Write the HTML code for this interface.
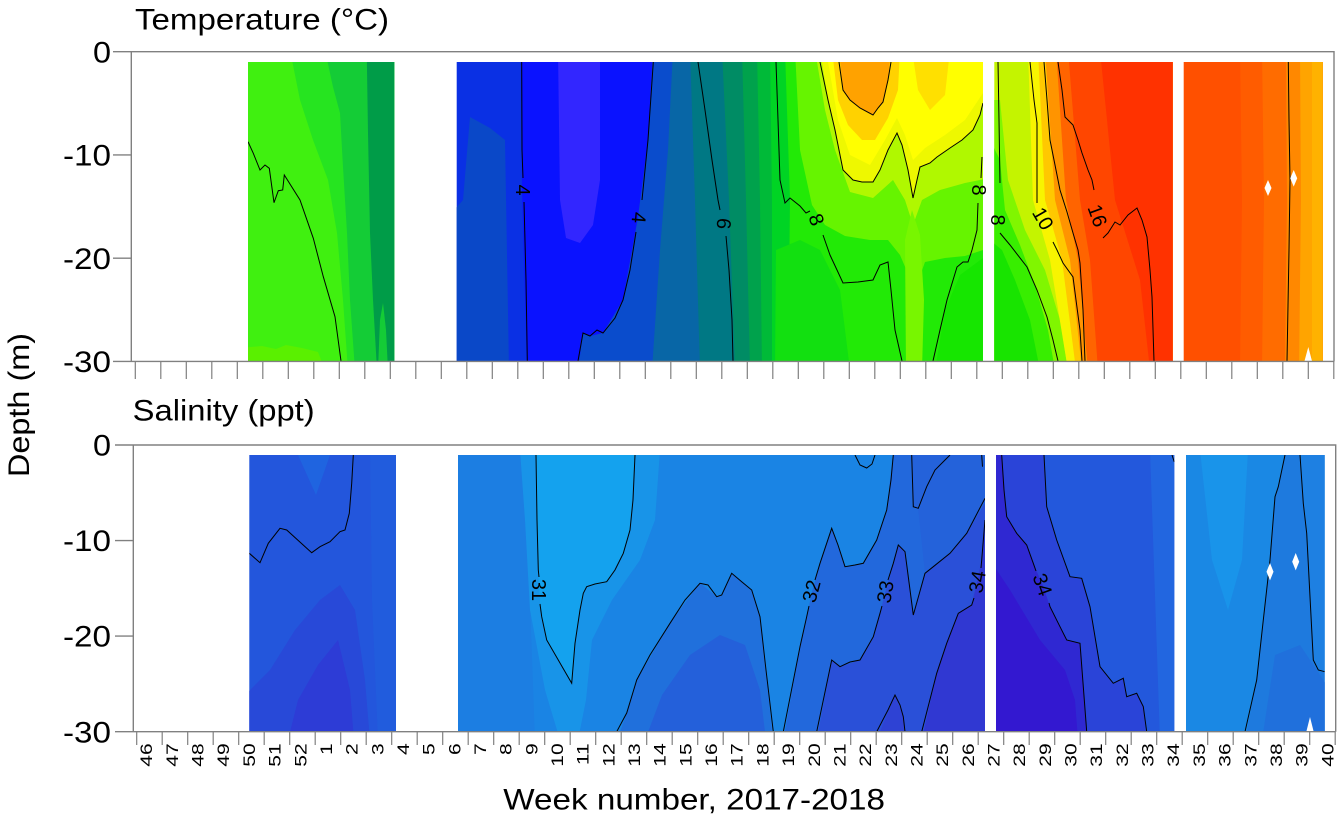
<!DOCTYPE html>
<html><head><meta charset="utf-8"><style>
html,body{margin:0;padding:0;background:#fff;}
svg{display:block;}
text{font-family:"Liberation Sans",Arial,sans-serif;fill:#000;}
</style></head><body>
<svg width="1339" height="818" viewBox="0 0 1339 818" xmlns="http://www.w3.org/2000/svg">
<defs>
<clipPath id="tb1"><rect x="248" y="62" width="146.3" height="299"/></clipPath>
<clipPath id="tb2"><rect x="456.7" y="62" width="526.3" height="299"/></clipPath>
<clipPath id="tb3"><rect x="994.3" y="62" width="178.4" height="299"/></clipPath>
<clipPath id="tb4"><rect x="1183.7" y="62" width="139" height="299"/></clipPath>
<clipPath id="bb1"><rect x="249.3" y="455" width="146.7" height="276.7"/></clipPath>
<clipPath id="bb2"><rect x="458" y="455" width="527" height="276.7"/></clipPath>
<clipPath id="bb3"><rect x="996" y="455" width="178.3" height="276.7"/></clipPath>
<clipPath id="bb4"><rect x="1186" y="455" width="138.7" height="276.7"/></clipPath>
</defs>

<g clip-path="url(#tb1)">
<rect x="240" y="50" width="170" height="330" fill="#40f010"/>
<polygon points="290,50 300,100 313,140 328,180 337,233 343,300 348,370 400,370 400,50" fill="#26e420"/>
<polygon points="325,50 333,87 340,113 343,167 347,233 350,300 355,370 400,370 400,50" fill="#14cc36"/>
<polygon points="366.7,50 368,133 370,233 373,300 377,370 400,370 400,50" fill="#009c48"/>
<polygon points="378,370 380,320 383,303 386,330 388,370" fill="#14cc36"/>
<polygon points="240,348 262,346 276,349 286,345 302,348 318,352 325,370 240,370" fill="#5af000"/>
<polyline fill="none" stroke="#000" stroke-width="1" points="248,141.7 253.3,153.3 260,170 265,165 269.3,168.3 274,202.7 278.3,190.7 282.7,190 284.3,175 300,200 313.3,238.3 323.3,276.7 335,316.7 341,361"/>
</g>

<g clip-path="url(#tb2)">
<rect x="450" y="50" width="540" height="330" fill="#0a30e4"/>
<polygon points="470,117 490,128 505,140 509,370 450,370 450,215 463,200" fill="#0a48c8"/>
<polygon points="521,50 522,190 527,370 990,370 990,50" fill="#0a12ff"/>
<polygon points="558,50 600,50 600,180 593,225 580,243 566,238 560,200" fill="#3226ff"/>
<polygon points="653,50 648,140 638,217 623,300 603,333 590,336 583,333 578,370 990,370 990,50" fill="#0a4ccc"/>
<polygon points="673,50 668,150 660,250 652,370 990,370 990,50" fill="#0866a6"/>
<polygon points="690,50 695,200 700,370 990,370 990,50" fill="#007884"/>
<polygon points="722,50 729,200 735,370 990,370 990,50" fill="#008c64"/>
<polygon points="742,50 746,200 750,370 990,370 990,50" fill="#00a24c"/>
<polygon points="757,50 760,200 762,370 990,370 990,50" fill="#00ba38"/>
<polygon points="770,50 772,200 772,370 990,370 990,50" fill="#00d424"/>
<polygon points="785,50 790,200 788,370 990,370 990,50" fill="#22ea06"/>
<polygon points="795,50 800,150 812,205 825,225 845,236 870,240 888,240 900,255 915,290 925,262 945,258 965,256 983,250 990,250 990,50" fill="#66f400"/>
<polygon points="815,50 825,110 835,150 850,192 873,198 893,180 905,200 913,225 922,200 940,190 965,183 990,178 990,50" fill="#b0f800"/>
<polygon points="820,50 828,100 835,130 843,170 853,180 862,182 873,182 880,170 888,150 897,133 902,145 908,170 913,198 917,180 920,167 930,163 937,157 950,148 962,140 973,130 980,115 983,103 990,100 990,50" fill="#eef800"/>
<polygon points="826,50 838,120 850,155 870,165 885,140 897,118 905,135 913,160 925,148 945,135 965,120 985,90 990,50" fill="#ffff00"/>
<polygon points="832,50 838,100 848,125 862,140 875,140 888,118 898,90 900,50" fill="#ffd200"/>
<polygon points="839,50 843,90 850,100 860,108 873,115 878,108 883,102 888,80 891,50" fill="#ffa200"/>
<polygon points="912,50 950,50 945,95 930,110 918,90" fill="#ffe000"/>
<polygon points="905,240 912,210 920,235 924,300 922,370 906,370" fill="#78f600"/>
<polygon points="935,370 945,310 960,275 983,258 990,258 990,370" fill="#16e600"/>
<polygon points="776,250 800,240 820,250 840,290 850,370 775,370" fill="#12e010"/>
<g fill="none" stroke="#000" stroke-width="1">
<polyline points="521.7,62 522,150 523,178"/>
<polyline points="524,202 526,280 527.3,361"/>
<polyline points="653.3,62 648,140 642,200"/>
<polyline points="636,232 630,270 623,300 615,318 603,333 597,330 590,336 583,333 578,361"/>
<polyline points="698,62 705,110 712,160 718,200 720,210"/>
<polyline points="726,236 729,270 732,320 733,361"/>
<polyline points="776,62 778,120 780,180 785,203 790,198 795,202 800,206 806,213 810,211"/>
<polyline points="823,235 830,255 837,270 843,283 858,282 873,280 880,265 888,262 891,290 895,330 902,361"/>
<polyline points="820,62 828,100 835,130 843,170 853,180 862,182 873,182 880,170 888,150 897,133 902,145 908,170 913,198 917,180 920,167 930,163 937,157 950,148 962,140 973,130 980,115 983,103"/>
<polyline points="839,62 843,90 850,100 860,108 873,115 878,108 883,102 888,80 891,62"/>
<polyline points="933,361 940,330 947,300 957,267 963,262 968,262 972,250 977,230 978,203"/>
<polyline points="981,178 982,157"/>
</g>
</g>

<g clip-path="url(#tb3)">
<rect x="990" y="50" width="190" height="330" fill="#c4f400"/>
<polygon points="990,100 1000,100 1008,180 1025,230 1045,270 1060,320 1068,370 990,370" fill="#80f600"/>
<polygon points="990,140 1000,160 1005,210 1020,245 1035,285 1048,330 1055,370 990,370" fill="#38ee00"/>
<polygon points="990,240 1002,250 1015,280 1030,320 1040,370 990,370" fill="#18e400"/>
<polygon points="1028,50 1033,200 1050,260 1068,370 1200,370 1200,50" fill="#f8f400"/>
<polygon points="1038,50 1045,200 1062,260 1076,370 1200,370 1200,50" fill="#ffc800"/>
<polygon points="1045,50 1055,200 1070,260 1082,370 1200,370 1200,50" fill="#ff9400"/>
<polygon points="1056,50 1066,200 1078,260 1088,370 1200,370 1200,50" fill="#ff6400"/>
<polygon points="1068,50 1080,200 1090,260 1098,370 1200,370 1200,50" fill="#ff4600"/>
<polygon points="1100,50 1115,200 1140,280 1150,370 1200,370 1200,50" fill="#ff3200"/>
<g fill="none" stroke="#000" stroke-width="1">
<polyline points="998,62 999,120 1000,183"/>
<polyline points="1000,233 1010,245 1027,267 1037,290 1047,317 1053,340 1058,361"/>
<polyline points="1030,62 1034,100 1037,123 1037,170 1037,203"/>
<polyline points="1053,242 1057,250 1063,263 1073,277 1076,300 1080,330 1082,361"/>
<polyline points="1044,62 1047,100 1050,140 1055,165 1060,190 1067,212 1073,233 1078,250 1080,263 1083,310 1085,361"/>
<polyline points="1058,62 1062,90 1065,117 1073,125 1078,140 1082,153 1088,170 1092,180 1094,190"/>
<polyline points="1103,238 1108,233 1115,222 1120,225 1128,215 1137,208 1142,220 1147,237 1150,270 1152,297 1154,361"/>
</g>
</g>

<g clip-path="url(#tb4)">
<rect x="1180" y="50" width="150" height="330" fill="#ff5000"/>
<polygon points="1240,50 1242,200 1240,370 1330,370 1330,50" fill="#ff5c00"/>
<polygon points="1262,50 1264,200 1262,370 1330,370 1330,50" fill="#ff6c00"/>
<polygon points="1286,50 1287,200 1285,370 1330,370 1330,50" fill="#ff8800"/>
<polygon points="1300,50 1301,200 1299,370 1330,370 1330,50" fill="#ffa400"/>
<polygon points="1312,50 1312,370 1330,370 1330,50" fill="#ffb200"/>
<polyline fill="none" stroke="#000" stroke-width="1" points="1288.3,62 1289,120 1290,180 1289,250 1287,361"/>
<polygon points="1268,180 1271.5,188 1268,196 1264.5,188" fill="#fff"/>
<polygon points="1293.7,170 1297.2,178.3 1293.7,186.6 1290.2,178.3" fill="#fff"/>
<polygon points="1304.5,361 1308.3,347 1312,361" fill="#fff"/>
</g>

<g font-size="20" text-anchor="middle">
<text transform="translate(516,190) rotate(90)">4</text>
<text transform="translate(632,217) rotate(95)">4</text>
<text transform="translate(717,223) rotate(95)">6</text>
<text transform="translate(810,222) rotate(70)">8</text>
<text transform="translate(972,190) rotate(90)">8</text>
<text transform="translate(991,220) rotate(90)">8</text>
<text transform="translate(1037,222) rotate(60)">10</text>
<text transform="translate(1091,218) rotate(70)">16</text>
</g>

<g stroke="#808080" stroke-width="1.4" fill="none">
<polyline points="113,51.7 1334,51.7 1334,361.4"/>
<line x1="131.3" y1="51.7" x2="131.3" y2="361.4"/>
<line x1="113" y1="361.4" x2="1334" y2="361.4"/>
<line x1="113" y1="154.9" x2="131.3" y2="154.9"/>
<line x1="113" y1="258.2" x2="131.3" y2="258.2"/>
</g>
<path stroke="#808080" stroke-width="1.2" fill="none" d="M135.3 361V379M160.8 361V379M186.3 361V379M211.8 361V379M237.3 361V379M262.8 361V379M288.3 361V379M313.8 361V379M339.3 361V379M364.8 361V379M390.3 361V379M415.8 361V379M441.3 361V379M466.8 361V379M492.3 361V379M517.8 361V379M543.3 361V379M568.8 361V379M594.3 361V379M619.8 361V379M645.3 361V379M670.8 361V379M696.3 361V379M721.8 361V379M747.3 361V379M772.8 361V379M798.3 361V379M823.8 361V379M849.3 361V379M874.8 361V379M900.3 361V379M925.8 361V379M951.3 361V379M976.8 361V379M1002.3 361V379M1027.8 361V379M1053.3 361V379M1078.8 361V379M1104.3 361V379M1129.8 361V379M1155.3 361V379M1180.8 361V379M1206.3 361V379M1231.8 361V379M1257.3 361V379M1282.8 361V379M1308.3 361V379M1333.8 361V379"/>

<g clip-path="url(#bb1)">
<rect x="240" y="450" width="170" height="290" fill="#2356dc"/>
<polygon points="298,455 330,455 316,495" fill="#1f64e0"/>
<polygon points="370,450 400,450 400,740 378,740 372,600" fill="#215cdd"/>
<polygon points="240,700 270,670 295,630 320,600 340,585 355,610 365,680 370,740 240,740" fill="#2849d8"/>
<polygon points="288,740 298,700 318,665 338,640 350,690 354,740" fill="#2d3cd6"/>
<polyline fill="none" stroke="#000" stroke-width="1" points="249.3,553.3 260,562.7 268.3,543.3 280,528.3 286.7,530 311.7,552.7 320,546.7 330,541.7 340,531.7 345,530 349.3,513.3 351.7,483.3 353.3,455"/>
</g>

<g clip-path="url(#bb2)">
<rect x="450" y="450" width="540" height="290" fill="#1a84e4"/>
<polygon points="450,450 528,450 530,600 535,740 450,740" fill="#1c7ee2"/>
<polygon points="520,450 660,450 655,520 640,560 612,600 592,640 586,700 578,740 560,740 545,690 530,610 525,520" fill="#1894e8"/>
<polygon points="536,450 635,450 630,530 623,553 607,582 587,587 583,593 575,643 572,683 547,640 541,617 538,570" fill="#14a2ee"/>
<polygon points="617,740 627,713 637,680 670,623 700,583 717,597 722,595 732,573 752,590 760,617 773,740" fill="#2070dc"/>
<polygon points="645,740 662,695 690,655 720,635 745,645 760,690 766,740" fill="#2460da"/>
<polygon points="783.3,740 800,646.7 806.7,616.7 811.7,593 820,563.3 831.7,528.3 845,566.7 863.3,563.3 876.7,540 886.7,510 893.3,450 990,450 990,740" fill="#2268dc"/>
<polygon points="911.7,450 990,450 990,500 966.7,533.3 950,553.3 933.3,566.7 925,573.3 918,508 913,506" fill="#2462da"/>
<polygon points="816.7,740 831.7,660 840,666.7 860,660 873.3,636.7 880,613.3 885,593 893.3,563.3 898.3,545 905,551.7 913.3,615 925,573.3 933.3,566.7 950,553.3 966.7,533.3 990,495 990,740" fill="#2a50d8"/>
<polygon points="876.7,740 895,695 903.3,716.7 905,740" fill="#2e42d4"/>
<polygon points="921.7,740 936.7,673.3 946.7,643.3 958.3,613.3 971.7,605 976.7,583.3 981.7,560 985,520 990,515 990,740" fill="#3038d2"/>
<g fill="none" stroke="#000" stroke-width="1">
<polyline points="536,455 537,520 538.3,570 539,577"/>
<polyline points="540,604 541.7,616.7 546.7,640 571.7,683.3 575,643.3 580,610 583.3,593.3 586.7,586.7 595,584 606.7,581.7 615,570 623.3,553.3 630,530 633,500 635,455"/>
<polyline points="616.7,731.7 626.7,713 636.7,680 650,655 670,623.3 685,600 700,583.3 708,585 716.7,596.7 721.7,595 731.7,573.3 742,582 751.7,590 760,616.7 766,670 773.3,731.7"/>
<polyline points="783.3,731.7 800,646.7 806.7,616.7 809,606"/>
<polyline points="815,580 820,563.3 831.7,528.3 838,545 845,566.7 855,565 863.3,563.3 876.7,540 886.7,510 891,480 893.3,455"/>
<polyline points="816.7,731.7 831.7,660 840,666.7 850,662 860,660 873.3,636.7 880,613.3 882,606"/>
<polyline points="888,580 893.3,563.3 898.3,545 905,551.7 913.3,615 925,573.3 933.3,566.7 950,553.3 966.7,533.3 985,498.3"/>
<polyline points="855,455 860,465 866.7,468 872,464 875,455"/>
<polyline points="876.7,731.7 888,710 895,695 900,705 903.3,716.7 905,731.7"/>
<polyline points="911.7,455 913.3,506.7 918.3,508.3 926.7,486.7 935,470 950,455"/>
<polyline points="921.7,731.7 936.7,673.3 946.7,643.3 958.3,613.3 971.7,605 974,598"/>
<polyline points="981,568 981.7,560 985,520"/>
<polyline points="981.7,455 982.5,466.7"/>
</g>
</g>

<g clip-path="url(#bb3)">
<rect x="990" y="450" width="190" height="290" fill="#2358dc"/>
<polygon points="1150,450 1180,450 1180,740 1160,740" fill="#2266e0"/>
<polygon points="990,450 1044,450 1046.7,506.7 1056.7,540 1070,576.7 1081.7,578.3 1090,606.7 1100,666.7 1113.3,683.3 1123.3,678.3 1126.7,696.7 1136.7,693.3 1143.3,706.7 1146.7,740 990,740" fill="#2a44d8"/>
<polygon points="990,450 1001.7,450 1006.7,516.7 1016.7,533.3 1026.7,545 1033.3,563.3 1043.3,586.7 1050,606.7 1060,626.7 1066.7,640 1080,643.3 1083.3,686.7 1086.7,740 990,740" fill="#2f28d2"/>
<polygon points="990,560 1010,590 1040,640 1065,670 1075,700 1078,740 990,740" fill="#3318d0"/>
<g fill="none" stroke="#000" stroke-width="1">
<polyline points="1001.7,455 1004,490 1006.7,516.7 1016.7,533.3 1026.7,545 1033.3,563.3 1036,571"/>
<polyline points="1049,603 1050,606.7 1060,626.7 1066.7,640 1080,643.3 1083.3,686.7 1086.7,731.7"/>
<polyline points="1044,455 1046.7,506.7 1056.7,540 1070,576.7 1081.7,578.3 1090,606.7 1100,666.7 1113.3,683.3 1123.3,678.3 1126.7,696.7 1136.7,693.3 1143.3,706.7 1146.7,731.7"/>
<polyline points="1172,455 1174.3,462"/>
</g>
</g>

<g clip-path="url(#bb4)">
<rect x="1180" y="450" width="150" height="290" fill="#1a88e4"/>
<polygon points="1200,450 1248,450 1242,560 1228,610 1212,560" fill="#1994ea"/>
<polygon points="1245,740 1256.7,680 1263.3,620 1270,560 1275,496.7 1278.3,486.7 1285,450 1300,450 1303.3,503.3 1306.7,533.3 1313.3,660 1318.3,670 1330,672 1330,740" fill="#1e7ade"/>
<polygon points="1300,450 1330,450 1330,671.7 1318.3,670 1313.3,660 1306.7,533.3 1303.3,503.3" fill="#1e80e2"/>
<polygon points="1262,740 1275,655 1300,645 1330,690 1330,740" fill="#2070dc"/>
<g fill="none" stroke="#000" stroke-width="1">
<polyline points="1245,731.7 1256.7,680 1263.3,620 1270,560 1275,496.7 1278.3,486.7 1285,455"/>
<polyline points="1300,455 1303.3,503.3 1306.7,533.3 1313.3,660 1318.3,670 1324.7,671.7"/>
</g>
<polygon points="1270,563 1273.5,571.7 1270,580.4 1266.5,571.7" fill="#fff"/>
<polygon points="1295.7,553 1299.2,561.7 1295.7,570.4 1292.2,561.7" fill="#fff"/>
<polygon points="1306.3,731.7 1310,717 1313.7,731.7" fill="#fff"/>
</g>

<g font-size="20" text-anchor="middle">
<text transform="translate(532,590) rotate(90)">31</text>
<text transform="translate(818,593) rotate(-75)">32</text>
<text transform="translate(892,593) rotate(-80)">33</text>
<text transform="translate(984,583) rotate(-80)">34</text>
<text transform="translate(1036,587) rotate(70)">34</text>
</g>

<g stroke="#808080" stroke-width="1.4" fill="none">
<polyline points="115,445 1335.7,445 1335.7,731.7"/>
<line x1="133.3" y1="445" x2="133.3" y2="731.7"/>
<line x1="115" y1="731.7" x2="1335.7" y2="731.7"/>
<line x1="115" y1="540.6" x2="133.3" y2="540.6"/>
<line x1="115" y1="636.1" x2="133.3" y2="636.1"/>
</g>
<path stroke="#808080" stroke-width="1.2" fill="none" d="M136.7 731.7V745M162.2 731.7V745M187.7 731.7V745M213.2 731.7V745M238.7 731.7V745M264.2 731.7V745M289.7 731.7V745M315.2 731.7V745M340.7 731.7V745M366.2 731.7V745M391.7 731.7V745M417.2 731.7V745M442.7 731.7V745M468.2 731.7V745M493.7 731.7V745M519.2 731.7V745M544.7 731.7V745M570.2 731.7V745M595.7 731.7V745M621.2 731.7V745M646.7 731.7V745M672.2 731.7V745M697.7 731.7V745M723.2 731.7V745M748.7 731.7V745M774.2 731.7V745M799.7 731.7V745M825.2 731.7V745M850.7 731.7V745M876.2 731.7V745M901.7 731.7V745M927.2 731.7V745M952.7 731.7V745M978.2 731.7V745M1003.7 731.7V745M1029.2 731.7V745M1054.7 731.7V745M1080.2 731.7V745M1105.7 731.7V745M1131.2 731.7V745M1156.7 731.7V745M1182.2 731.7V745M1207.7 731.7V745M1233.2 731.7V745M1258.7 731.7V745M1284.2 731.7V745M1309.7 731.7V745M1335.2 731.7V745"/>

<g font-size="30" text-anchor="end">
<text x="111" y="62.3" textLength="18" lengthAdjust="spacingAndGlyphs">0</text>
<text x="111" y="165.5" textLength="48" lengthAdjust="spacingAndGlyphs">-10</text>
<text x="111" y="268.8" textLength="48" lengthAdjust="spacingAndGlyphs">-20</text>
<text x="111" y="372" textLength="48" lengthAdjust="spacingAndGlyphs">-30</text>
<text x="111" y="455.6" textLength="18" lengthAdjust="spacingAndGlyphs">0</text>
<text x="111" y="551.2" textLength="48" lengthAdjust="spacingAndGlyphs">-10</text>
<text x="111" y="646.7" textLength="48" lengthAdjust="spacingAndGlyphs">-20</text>
<text x="111" y="742.3" textLength="48" lengthAdjust="spacingAndGlyphs">-30</text>
</g>

<text x="135" y="29.5" font-size="30" textLength="254" lengthAdjust="spacingAndGlyphs">Temperature (°C)</text>
<text x="132.7" y="420.7" font-size="30" textLength="182" lengthAdjust="spacingAndGlyphs">Salinity (ppt)</text>
<text x="503.3" y="809.3" font-size="30" textLength="381.7" lengthAdjust="spacingAndGlyphs">Week number, 2017-2018</text>
<text transform="translate(29,405) rotate(-90)" font-size="30" text-anchor="middle" textLength="144" lengthAdjust="spacingAndGlyphs">Depth (m)</text>

<text transform="rotate(-90) scale(1.238,1)" font-size="17" text-anchor="end"><tspan x="-600.4" y="152.2">46</tspan><tspan x="-600.4" y="177.9">47</tspan><tspan x="-600.4" y="203.5">48</tspan><tspan x="-600.4" y="229.2">49</tspan><tspan x="-600.4" y="254.9">50</tspan><tspan x="-600.4" y="280.6">51</tspan><tspan x="-600.4" y="306.3">52</tspan><tspan x="-600.4" y="331.9">1</tspan><tspan x="-600.4" y="357.6">2</tspan><tspan x="-600.4" y="383.3">3</tspan><tspan x="-600.4" y="409">4</tspan><tspan x="-600.4" y="434.6">5</tspan><tspan x="-600.4" y="460.3">6</tspan><tspan x="-600.4" y="486">7</tspan><tspan x="-600.4" y="511.7">8</tspan><tspan x="-600.4" y="537.3">9</tspan><tspan x="-600.4" y="563">10</tspan><tspan x="-600.4" y="588.7">11</tspan><tspan x="-600.4" y="614.4">12</tspan><tspan x="-600.4" y="640">13</tspan><tspan x="-600.4" y="665.7">14</tspan><tspan x="-600.4" y="691.4">15</tspan><tspan x="-600.4" y="717.1">16</tspan><tspan x="-600.4" y="742.7">17</tspan><tspan x="-600.4" y="768.4">18</tspan><tspan x="-600.4" y="794.1">19</tspan><tspan x="-600.4" y="819.8">20</tspan><tspan x="-600.4" y="845.5">21</tspan><tspan x="-600.4" y="871.1">22</tspan><tspan x="-600.4" y="896.8">23</tspan><tspan x="-600.4" y="922.5">24</tspan><tspan x="-600.4" y="948.2">25</tspan><tspan x="-600.4" y="973.8">26</tspan><tspan x="-600.4" y="999.5">27</tspan><tspan x="-600.4" y="1025.2">28</tspan><tspan x="-600.4" y="1050.9">29</tspan><tspan x="-600.4" y="1076.5">30</tspan><tspan x="-600.4" y="1102.2">31</tspan><tspan x="-600.4" y="1127.9">32</tspan><tspan x="-600.4" y="1153.6">33</tspan><tspan x="-600.4" y="1179.2">34</tspan><tspan x="-600.4" y="1204.9">35</tspan><tspan x="-600.4" y="1230.6">36</tspan><tspan x="-600.4" y="1256.3">37</tspan><tspan x="-600.4" y="1281.9">38</tspan><tspan x="-600.4" y="1307.6">39</tspan><tspan x="-600.4" y="1333.3">40</tspan></text>
</svg>
</body></html>
